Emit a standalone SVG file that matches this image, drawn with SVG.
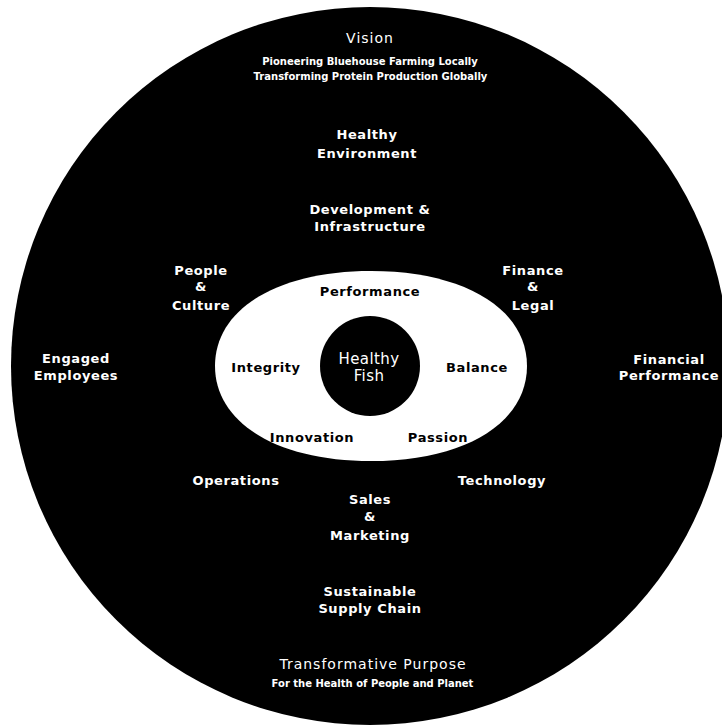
<svg xmlns="http://www.w3.org/2000/svg" width="722" height="725" viewBox="0 0 722 725">
<style>
text{font-family:"DejaVu Sans","Liberation Sans",sans-serif;text-anchor:middle;font-weight:700;letter-spacing:0.6px;font-size:13px}
.w{fill:#fff}
.k{fill:#000}
.sm{font-size:10px;letter-spacing:0}
.big{font-weight:400;font-size:14px;letter-spacing:1px}
.fish{font-weight:400;font-size:15px;letter-spacing:0.4px}
</style>
<rect width="722" height="725" fill="#fff"/>
<g id="outer"><circle cx="370" cy="366" r="359" fill="#000"/></g>
<g id="values-ring"><path d="M527 366 C527 423 464.6 461 371 461 C277.4 461 215 423 215 366 C215 309 277.4 271 371 271 C464.6 271 527 309 527 366 Z" fill="#fff"/></g>
<g id="core"><circle cx="370" cy="366" r="50" fill="#000"/></g>
<g id="connectors"></g>
<g id="vision" class="w">
<text x="370" y="43" class="big">Vision</text>
<text x="370" y="65" class="sm">Pioneering Bluehouse Farming Locally</text>
<text x="370.5" y="80" class="sm">Transforming Protein Production Globally</text>
</g>
<g id="healthy-environment" class="w"><text x="367" y="139">Healthy</text><text x="367" y="158">Environment</text></g>
<g id="development" class="w"><text x="370" y="214">Development &amp;</text><text x="370" y="231">Infrastructure</text></g>
<g id="people-culture" class="w"><text x="201" y="275">People</text><text x="201" y="291">&amp;</text><text x="201" y="310">Culture</text></g>
<g id="finance-legal" class="w"><text x="533" y="275">Finance</text><text x="533" y="291">&amp;</text><text x="533" y="310">Legal</text></g>
<g id="performance" class="k"><text x="370" y="296">Performance</text></g>
<g id="integrity" class="k"><text x="266" y="372">Integrity</text></g>
<g id="healthy-fish" class="w"><text x="369" y="364" class="fish">Healthy</text><text x="369" y="381" class="fish">Fish</text></g>
<g id="balance" class="k"><text x="477" y="372">Balance</text></g>
<g id="innovation" class="k"><text x="312" y="442">Innovation</text></g>
<g id="passion" class="k"><text x="438" y="442">Passion</text></g>
<g id="engaged-employees" class="w"><text x="76" y="363">Engaged</text><text x="76" y="380">Employees</text></g>
<g id="financial-performance" class="w"><text x="669" y="364">Financial</text><text x="669" y="380">Performance</text></g>
<g id="operations" class="w"><text x="236" y="485">Operations</text></g>
<g id="technology" class="w"><text x="502" y="485">Technology</text></g>
<g id="sales-marketing" class="w"><text x="370" y="504">Sales</text><text x="370" y="521">&amp;</text><text x="370" y="540">Marketing</text></g>
<g id="supply-chain" class="w"><text x="370" y="596">Sustainable</text><text x="370" y="613">Supply Chain</text></g>
<g id="purpose" class="w">
<text x="373" y="669" class="big">Transformative Purpose</text>
<text x="372.5" y="687" class="sm">For the Health of People and Planet</text>
</g>
</svg>
